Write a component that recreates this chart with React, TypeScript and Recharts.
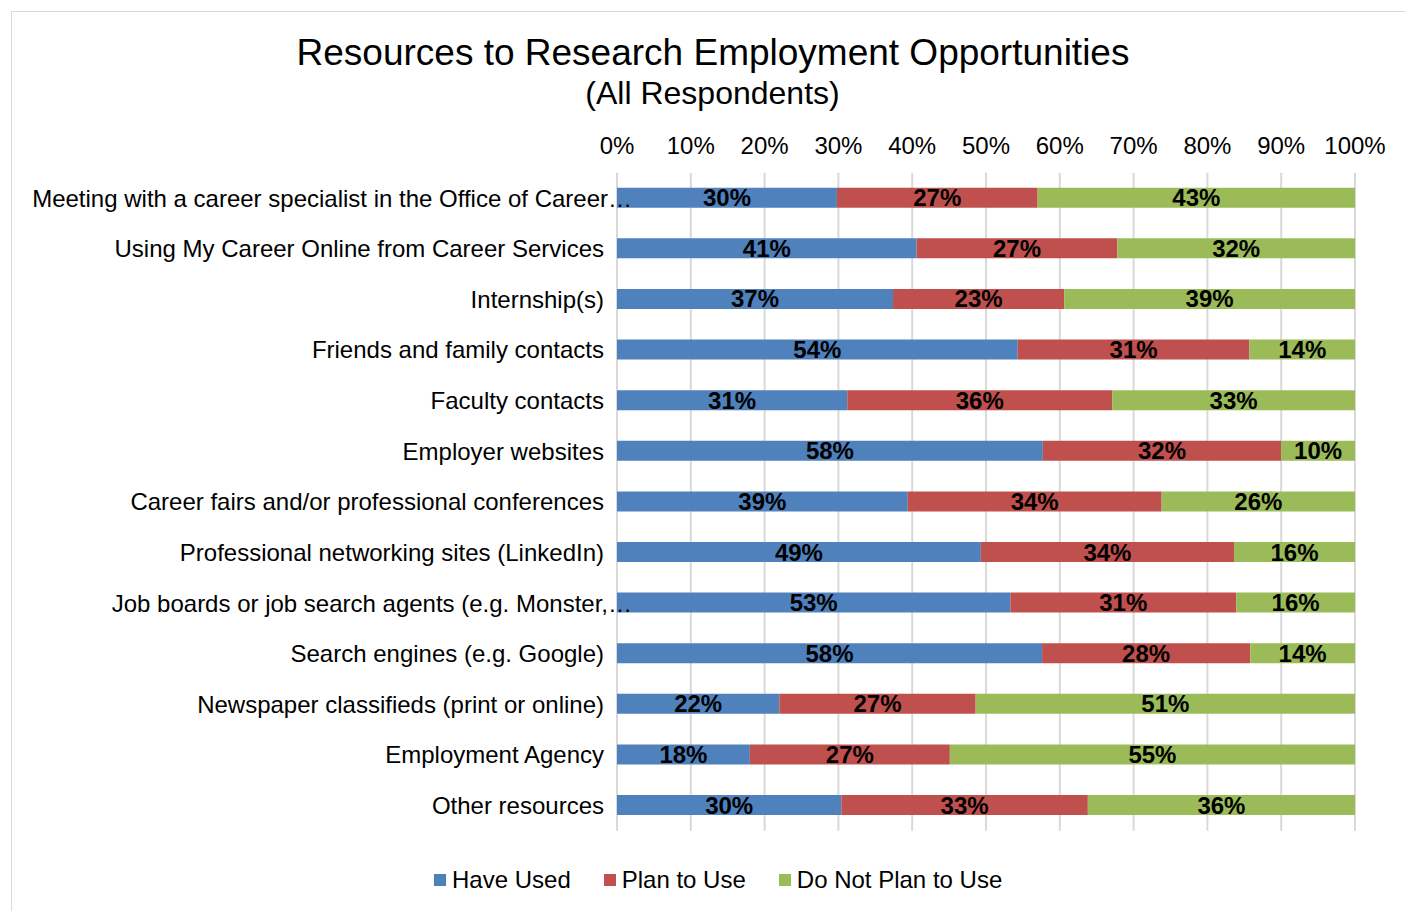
// Resources to Research Employment Opportunities — 100% stacked horizontal bars.
// Values sum to 100 per row; labels are rounded to whole percent like the source.
import { BarChart, Bar, XAxis, YAxis, CartesianGrid, LabelList } from 'recharts'

const FONT = '"Liberation Sans", Arial, sans-serif'

const categories = [
  'Meeting with a career specialist in the Office of Career…',
  'Using My Career Online from Career Services',
  'Internship(s)',
  'Friends and family contacts',
  'Faculty contacts',
  'Employer websites',
  'Career fairs and/or professional conferences',
  'Professional networking sites (LinkedIn)',
  'Job boards or job search agents (e.g. Monster,…',
  'Search engines (e.g. Google)',
  'Newspaper classifieds (print or online)',
  'Employment Agency',
  'Other resources',
]

const haveUsed = [29.8, 40.6, 37.4, 54.3, 31.2, 57.7, 39.4, 49.3, 53.3, 57.6, 22.0, 18.0, 30.4]
const planToUse = [27.2, 27.2, 23.2, 31.4, 35.9, 32.3, 34.4, 34.3, 30.6, 28.2, 26.6, 27.1, 33.4]
const notPlanToUse = [43.0, 32.2, 39.4, 14.3, 32.9, 10.0, 26.2, 16.4, 16.1, 14.2, 51.4, 54.9, 36.2]

const xTicks = [0, 10, 20, 30, 40, 50, 60, 70, 80, 90, 100]

const SERIES = [
  { key: 'have', name: 'Have Used', color: '#4f81bd' },
  { key: 'plan', name: 'Plan to Use', color: '#c0504d' },
  { key: 'not', name: 'Do Not Plan to Use', color: '#9bbb59' },
]

const data = categories.map((name, i) => ({
  name,
  have: haveUsed[i],
  plan: planToUse[i],
  not: notPlanToUse[i],
}))

// Excel-style truncated label: text ends at the axis gap, ellipsis spills over
function CategoryTick({ x, y, payload }: any) {
  const label: string = payload.value
  if (label.endsWith('…')) {
    const main = label.slice(0, -1)
    return (
      <g>
        <text x={x + 4} y={y} dy="0.36em" textAnchor="end" fontSize={24} fontFamily={FONT} fill="#000">
          {main}
        </text>
        <text x={x + 4} y={y} dy="0.36em" textAnchor="start" fontSize={24} fontFamily={FONT} fill="#000">
          …
        </text>
      </g>
    )
  }
  return (
    <text x={x} y={y} dy="0.36em" textAnchor="end" fontSize={24} fontFamily={FONT} fill="#000">
      {label}
    </text>
  )
}

// legend kept outside the chart so it doesn't eat into the plot offsets
function ChartLegend() {
  return (
    <div style={{ position: 'absolute', left: 434, top: 865, display: 'flex', alignItems: 'center', fontSize: 24, lineHeight: '30px', color: '#000' }}>
      {SERIES.map((s) => (
        <div key={s.key} style={{ display: 'flex', alignItems: 'center', marginRight: 33 }}>
          <span style={{ display: 'inline-block', width: 12, height: 12, background: s.color, marginRight: 6 }} />
          <span>{s.name}</span>
        </div>
      ))}
    </div>
  )
}

export default function App() {
  return (
    <div style={{ position: 'absolute', left: 0, top: 0, width: 1405, height: 911, background: '#fff', overflow: 'hidden', fontFamily: FONT }}>
      <div style={{ position: 'absolute', left: 11, top: 11, width: 1420, height: 920, border: '1px solid #d9d9d9' }} />
      <div style={{ position: 'absolute', left: 0, width: 1426, top: 31, textAlign: 'center', fontSize: 37, lineHeight: '44px', color: '#000' }}>
        Resources to Research Employment Opportunities
      </div>
      <div style={{ position: 'absolute', left: 0, width: 1425, top: 74, textAlign: 'center', fontSize: 32, lineHeight: '38px', color: '#000' }}>
        (All Respondents)
      </div>
      <div style={{ position: 'absolute', left: 0, top: 0 }}>
        <BarChart
          width={1405}
          height={911}
          data={data}
          layout="vertical"
          margin={{ top: 132.7, right: 50, bottom: 80.3, left: 0 }}
          barSize={20}
        >
          <CartesianGrid horizontal={false} vertical stroke="#d9d9d9" strokeWidth={2} />
          <XAxis
            type="number"
            orientation="top"
            domain={[0, 100]}
            ticks={xTicks}
            height={40}
            axisLine={false}
            tickLine={false}
            tickSize={0}
            tickMargin={19}
            tickFormatter={(v: number) => `${v}%`}
            tick={{ fontSize: 24, fontFamily: FONT, fill: '#000' }}
            interval={0}
          />
          <YAxis
            type="category"
            dataKey="name"
            width={617}
            axisLine={false}
            tickLine={false}
            tickSize={0}
            tickMargin={13}
            interval={0}
            tick={<CategoryTick />}
          />
          {SERIES.map((s) => (
            <Bar key={s.key} dataKey={s.key} name={s.name} stackId="a" fill={s.color} isAnimationActive={false}>
              <LabelList
                dataKey={s.key}
                position="center"
                formatter={(v: any) => `${Math.round(Number(v))}%`}
                fill="#000"
                fontSize={24}
                fontWeight="bold"
                fontFamily={FONT}
              />
            </Bar>
          ))}
        </BarChart>
      </div>
      <ChartLegend />
    </div>
  )
}
